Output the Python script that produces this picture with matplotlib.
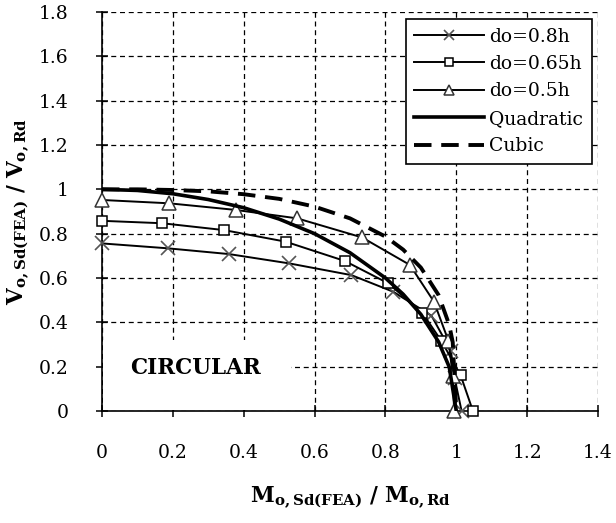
import matplotlib as mpl
mpl.use('Agg')
import matplotlib.pyplot as plt
from matplotlib.patches import Rectangle

plt.rcParams['font.family'] = 'DejaVu Serif'
plt.rcParams['mathtext.fontset'] = 'custom'
plt.rcParams['mathtext.rm'] = 'DejaVu Serif'
plt.rcParams['mathtext.bf'] = 'DejaVu Serif:bold'

# FEA results (M/MRd, V/VRd)
m_08 = [0.0, 0.185, 0.358, 0.528, 0.704, 0.822, 0.930, 0.985, 0.995, 1.015]
v_08 = [0.756, 0.734, 0.708, 0.666, 0.613, 0.538, 0.430, 0.270, 0.150, 0.0]

m_065 = [0.0, 0.170, 0.345, 0.518, 0.685, 0.808, 0.904, 0.958, 1.012, 1.047]
v_065 = [0.858, 0.847, 0.816, 0.764, 0.677, 0.576, 0.443, 0.316, 0.162, 0.0]

m_05 = [0.0, 0.189, 0.378, 0.551, 0.734, 0.869, 0.937, 0.978, 0.990, 0.994]
v_05 = [0.952, 0.937, 0.907, 0.869, 0.783, 0.659, 0.493, 0.316, 0.160, 0.0]

# interaction curves
m_quad = [0.0, 0.1, 0.2, 0.3, 0.4, 0.5, 0.6, 0.7, 0.8, 0.85, 0.9, 0.95, 0.98, 1.0]
v_quad = [1.0, 0.995, 0.98, 0.954, 0.917, 0.866, 0.8, 0.714, 0.6, 0.527, 0.436, 0.312, 0.199, 0.0]

m_cub = [0.0, 0.1, 0.2, 0.3, 0.4, 0.5, 0.6, 0.7, 0.8, 0.85, 0.9, 0.95, 0.98, 0.99, 1.0]
v_cub = [1.0, 1.0, 0.997, 0.991, 0.978, 0.957, 0.922, 0.869, 0.787, 0.728, 0.647, 0.523, 0.389, 0.310, 0.0]

x_ticks = [0, 0.2, 0.4, 0.6, 0.8, 1, 1.2, 1.4]
y_ticks = [0, 0.2, 0.4, 0.6, 0.8, 1, 1.2, 1.4, 1.6, 1.8]


fig = plt.figure(figsize=(6.16, 5.23), dpi=100)
ax = fig.add_axes([102/616., (523-411)/523., (598-102)/616., (411-12)/523.])

ax.plot(m_08, v_08, '-', color='black', lw=1.4, marker='x', ms=10, mew=1.2,
        mec='#555555', label='do=0.8h', clip_on=False, zorder=3)
ax.plot(m_065, v_065, '-', color='black', lw=1.4, marker='s', ms=7, mew=1.1,
        mfc='white', mec='black', label='do=0.65h', clip_on=False, zorder=3)
ax.plot(m_05, v_05, '-', color='black', lw=1.4, marker='^', ms=10, mew=1.1,
        mfc='white', mec='#333333', label='do=0.5h', clip_on=False, zorder=3)
ax.plot(m_quad, v_quad, '-', color='black', lw=2.6, label='Quadratic', zorder=4)
ax.plot(m_cub, v_cub, color='black', lw=2.8, ls=(0, (4.5, 2.5)), label='Cubic', zorder=4)

ax.set_xlim(0, 1.4)
ax.set_ylim(0, 1.8)
ax.set_xticks(x_ticks)
ax.set_yticks(y_ticks)
ax.set_xticklabels(['0', '0.2', '0.4', '0.6', '0.8', '1', '1.2', '1.4'])
ax.set_yticklabels(['0', '0.2', '0.4', '0.6', '0.8', '1', '1.2', '1.4', '1.6', '1.8'])

ax.grid(True, ls=(0, (4, 3)), color='black', lw=0.9)
ax.set_axisbelow(True)
for s in ['top', 'right']:
    ax.spines[s].set_visible(False)
for s in ['left', 'bottom']:
    ax.spines[s].set_linewidth(1.2)
ax.tick_params(direction='inout', length=8, width=1.1, labelsize=13.5)
ax.tick_params(axis='x', pad=20)
ax.tick_params(axis='y', pad=20)

ax.set_xlabel(r'$\mathbf{M_{o,Sd(FEA)}\ /\ M_{o,Rd}}$', fontsize=15.5, labelpad=16)
ax.set_ylabel(r'$\mathbf{V_{o,Sd(FEA)}\ /\ V_{o,Rd}}$', fontsize=15.5, labelpad=5)

# white label box hiding the grid
ax.add_patch(Rectangle((0.004, 0.004), 0.53, 0.315, facecolor='white', edgecolor='none', zorder=1.5))
ax.text(0.265, 0.194, 'CIRCULAR', fontsize=15.5, fontweight='bold', ha='center', va='center', zorder=2)

leg = ax.legend(loc='upper right', bbox_to_anchor=(0.987, 0.982), fontsize=13.5,
                handlelength=3.7, fancybox=False, framealpha=1, edgecolor='black',
                borderpad=0.45, labelspacing=0.5, handletextpad=0.3, markerscale=0.75,
                borderaxespad=0)
leg.get_frame().set_linewidth(1.2)

fig.savefig('out.png', dpi=100)
